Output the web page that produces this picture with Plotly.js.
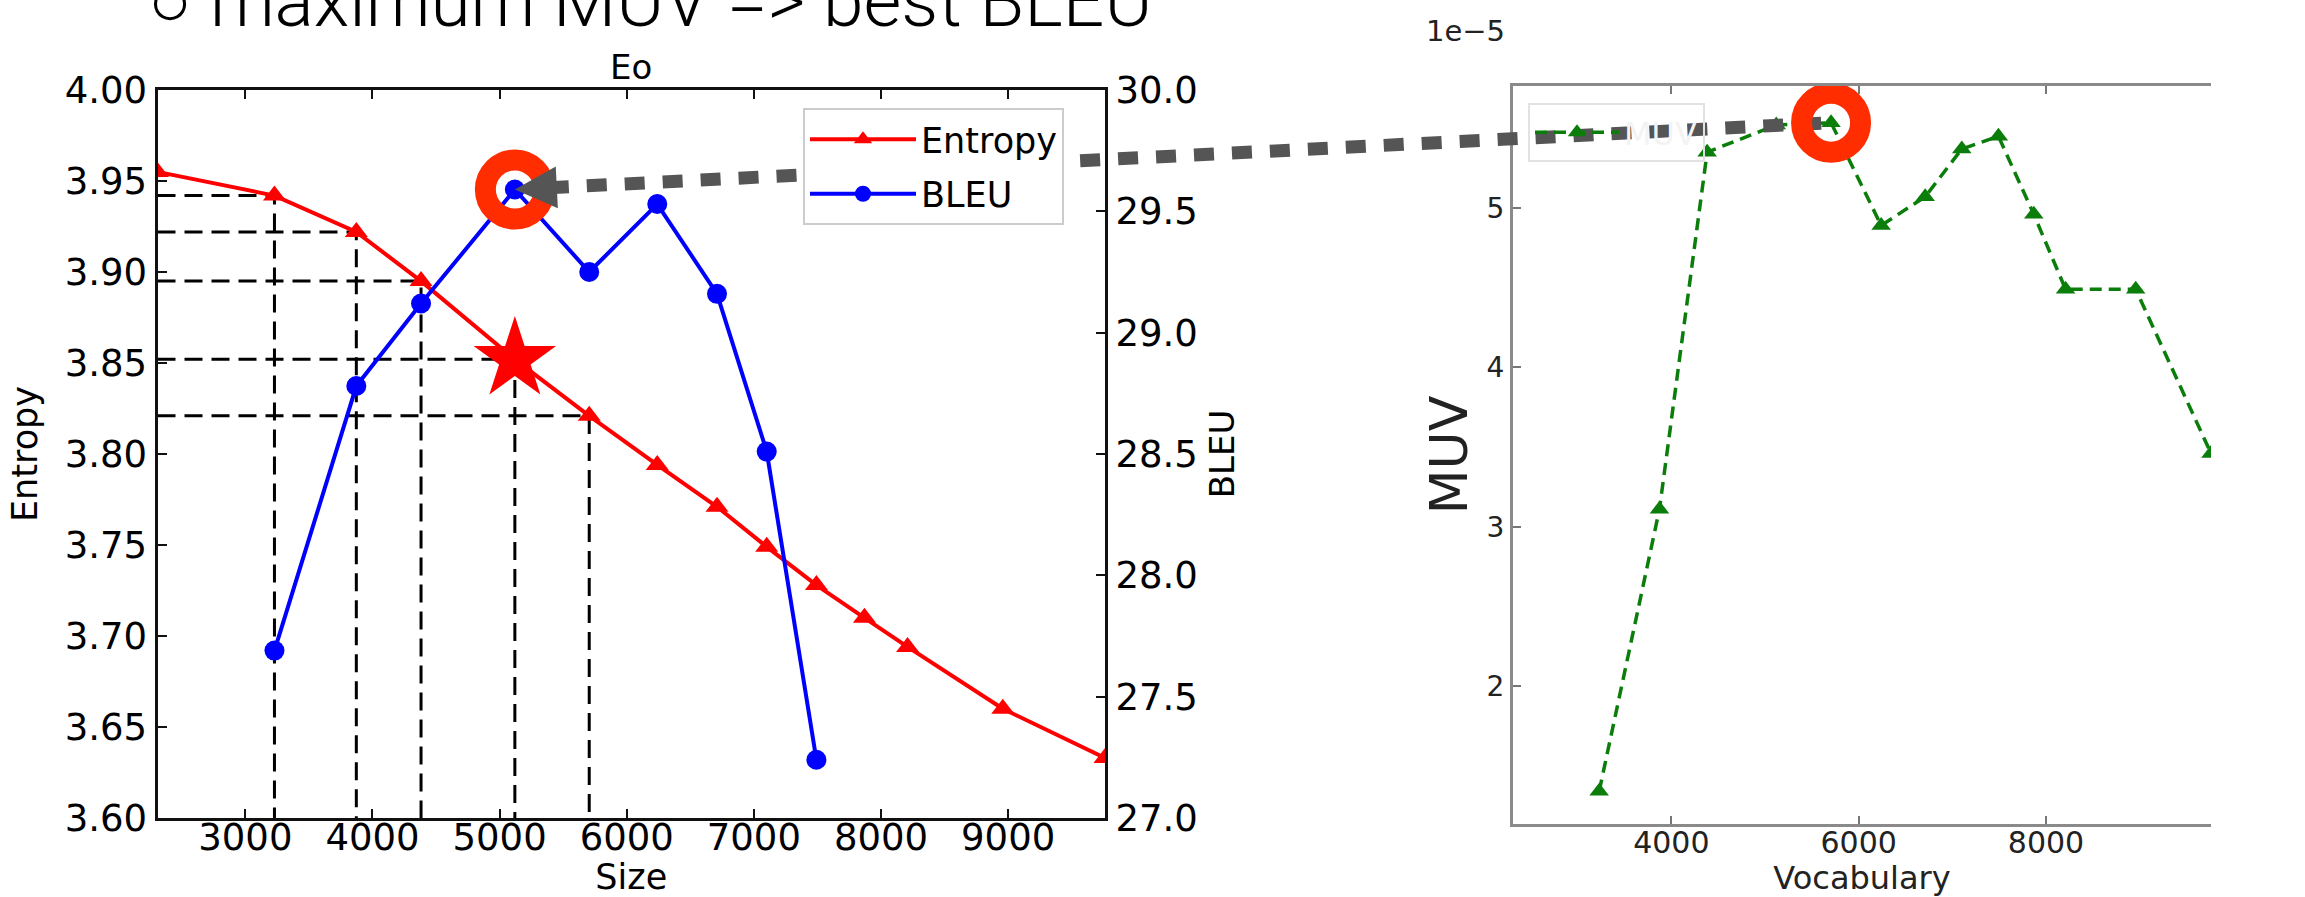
<!DOCTYPE html>
<html>
<head>
<meta charset="utf-8">
<script src="https://cdn.plot.ly/plotly-3.0.1.min.js"></script>
<style>
  html, body { margin: 0; padding: 0; background: #ffffff; }
  #chart { width: 2305px; height: 897px; }
</style>
</head>
<body>
<div id="chart"></div>
<script>
// ---- data ----
const sizeVals    = [2309, 3229, 3873, 4382, 5120, 5705, 6240, 6710, 7101, 7492, 7870, 8209, 8958, 9762];
const entropyVals = [3.955, 3.942, 3.922, 3.895, 3.852, 3.821, 3.794, 3.771, 3.749, 3.728, 3.710, 3.694, 3.660, 3.633];
const bleuSize    = [3229, 3873, 4382, 5120, 5705, 6240, 6710, 7101, 7492];
const bleuVals    = [27.69, 28.78, 29.12, 29.59, 29.25, 29.53, 29.16, 28.51, 27.24];
const vocabVals   = [3229, 3873, 4382, 5120, 5705, 6240, 6710, 7101, 7492, 7870, 8209, 8958, 9762];
const muvVals     = [1.34e-5, 3.11e-5, 5.35e-5, 5.52e-5, 5.535e-5, 4.89e-5, 5.07e-5, 5.37e-5, 5.45e-5, 4.96e-5, 4.49e-5, 4.49e-5, 3.46e-5];
const guideIdx    = [1, 2, 3, 4, 5];          // entropy points with dashed guides
const muvTickVals = [2e-5, 3e-5, 4e-5, 5e-5];
const muvTickText = ['2', '3', '4', '5'];
const headline    = '\u25CB maximum MUV => best BLEU';

const W = 2305, H = 897;
const FONT = 'DejaVu Sans';

// ---- axes ----
const xaxis = {
  domain: [157.5 / W, 1105 / W], range: [2309, 9762], anchor: 'y',
  tick0: 0, dtick: 1000, tickformat: 'd',
  ticks: 'inside', ticklen: 9, tickwidth: 2, tickcolor: '#111',
  showline: true, linecolor: '#111', linewidth: 3, mirror: 'ticks',
  showgrid: false, zeroline: false, ticklabelstandoff: -15,
  tickfont: { family: FONT, size: 37, color: '#000' },
  title: { text: 'Size', font: { family: FONT, size: 35, color: '#000' }, standoff: 16 }
};
const yaxis = {
  domain: [79 / H, 807 / H], range: [3.60, 4.00], anchor: 'x',
  tick0: 0, dtick: 0.05, tickformat: '.2f',
  ticks: 'inside', ticklen: 9, tickwidth: 2, tickcolor: '#111',
  showline: true, linecolor: '#111', linewidth: 3,
  showgrid: false, zeroline: false,
  tickfont: { family: FONT, size: 37, color: '#000' },
  title: { text: 'Entropy', font: { family: FONT, size: 35, color: '#000' }, standoff: 17 }
};
const yaxis2 = {
  overlaying: 'y', side: 'right', anchor: 'x', range: [27, 30],
  tick0: 0, dtick: 0.5, tickformat: '.1f',
  ticks: 'inside', ticklen: 9, tickwidth: 2, tickcolor: '#111',
  showline: true, linecolor: '#111', linewidth: 3,
  showgrid: false, zeroline: false,
  tickfont: { family: FONT, size: 37, color: '#000' },
  title: { text: 'BLEU', font: { family: FONT, size: 34, color: '#000' }, standoff: 14 }
};
const xaxis3 = {
  domain: [1513 / W, 2211 / W], range: [2309, 9762], anchor: 'y3',
  tick0: 0, dtick: 2000, tickformat: 'd',
  ticks: 'inside', ticklen: 8, tickwidth: 2, tickcolor: '#777',
  showline: true, linecolor: '#8a8a8a', linewidth: 3, mirror: 'ticks',
  showgrid: false, zeroline: false, ticklabelstandoff: -10,
  tickfont: { family: FONT, size: 30, color: '#222' },
  title: { text: 'Vocabulary', font: { family: FONT, size: 32, color: '#222' }, standoff: 10 }
};
const yaxis3 = {
  domain: [73 / H, 811 / H], range: [1.135e-5, 5.765e-5], anchor: 'x3',
  tickvals: muvTickVals, ticktext: muvTickText,
  ticks: 'inside', ticklen: 8, tickwidth: 2, tickcolor: '#777',
  showline: true, linecolor: '#8a8a8a', linewidth: 3,
  showgrid: false, zeroline: false,
  tickfont: { family: FONT, size: 28, color: '#222' },
  title: { text: 'MUV', font: { family: FONT, size: 52, color: '#222' }, standoff: 3 }
};
const yaxis4 = {
  overlaying: 'y3', side: 'right', anchor: 'x3', range: [0.767, 5.07],
  tick0: 0, dtick: 1, showticklabels: false,
  ticks: 'inside', ticklen: 8, tickwidth: 2, tickcolor: '#777',
  showline: true, linecolor: '#8a8a8a', linewidth: 3,
  showgrid: false, zeroline: false
};

// ---- helpers to place decorations at data positions ----
function toPaper(ax, v) {
  return ax.domain[0] + (v - ax.range[0]) / (ax.range[1] - ax.range[0]) * (ax.domain[1] - ax.domain[0]);
}
function argMax(a) { let k = 0; a.forEach((v, i) => { if (v > a[k]) k = i; }); return k; }

const y2Full = Object.assign({}, yaxis2, { domain: yaxis.domain });

const bi = argMax(bleuVals);
const mi = argMax(muvVals);
const bx = toPaper(xaxis, bleuSize[bi]) * W, by = (1 - toPaper(y2Full, bleuVals[bi])) * H;
const mx = toPaper(xaxis3, vocabVals[mi]) * W, my = (1 - toPaper(yaxis3, muvVals[mi])) * H;
const dx = mx - bx, dy = my - by, len = Math.hypot(dx, dy), ux = dx / len, uy = dy / len;
const startX = bx + 34 * ux, startY = by + 34 * uy;

// guide lines (horizontal to the left axis, vertical down to the bottom axis)
const gx = [], gy = [];
guideIdx.forEach(i => {
  gx.push(xaxis.range[0], sizeVals[i], sizeVals[i], null);
  gy.push(entropyVals[i], entropyVals[i], yaxis.range[0], null);
});
const starIdx = sizeVals.indexOf(bleuSize[bi]);

const traces = [
  { x: gx, y: gy, xaxis: 'x', yaxis: 'y', mode: 'lines', showlegend: false, hoverinfo: 'skip',
    line: { color: '#000', width: 3, dash: '18px,9px' } },
  { x: sizeVals, y: entropyVals, xaxis: 'x', yaxis: 'y', mode: 'lines+markers', name: 'Entropy',
    legendgroup: 'e', line: { color: '#ff0000', width: 4 },
    marker: { symbol: 'triangle-up', size: 20, color: '#ff0000' } },
  { x: [sizeVals[starIdx]], y: [entropyVals[starIdx]], xaxis: 'x', yaxis: 'y', mode: 'markers',
    showlegend: false, marker: { symbol: 'star', size: 62, color: '#ff0000' } },
  { x: bleuSize, y: bleuVals, xaxis: 'x', yaxis: 'y2', mode: 'lines+markers', name: 'BLEU',
    legendgroup: 'b', line: { color: '#0000ff', width: 4 },
    marker: { symbol: 'circle', size: 20, color: '#0000ff' } },
  { x: vocabVals, y: muvVals, xaxis: 'x3', yaxis: 'y3', mode: 'lines+markers', name: 'MUV',
    legend: 'legend2', line: { color: '#0a7d0a', width: 3.5, dash: '12px,7px' },
    marker: { symbol: 'triangle-up', size: 17, color: '#0a7d0a' } }
];

const ringR = 29.5, ringW = 21, ringColor = '#ff2d00';
const layout = {
  width: W, height: H,
  margin: { l: 0, r: 0, t: 0, b: 0, pad: 0 },
  paper_bgcolor: '#ffffff', plot_bgcolor: 'rgba(0,0,0,0)',
  font: { family: FONT, size: 34, color: '#000' },
  title: { text: 'Eo', x: (157.5 + 1105) / 2 / W, xanchor: 'center', xref: 'paper',
           y: 1 - 67 / H, yanchor: 'middle', yref: 'paper',
           font: { family: FONT, size: 34, color: '#000' } },
  xaxis: xaxis, yaxis: yaxis, yaxis2: yaxis2,
  xaxis3: xaxis3, yaxis3: yaxis3, yaxis4: yaxis4,
  legend: { x: 803 / W, y: 1 - 108 / H, xanchor: 'left', yanchor: 'top',
            bgcolor: '#ffffff', bordercolor: '#cccccc', borderwidth: 2,
            font: { family: FONT, size: 35, color: '#000' },
            itemwidth: 106, tracegroupgap: 6 },
  legend2: { x: 1528 / W, y: 1 - 103 / H, xanchor: 'left', yanchor: 'top',
             bgcolor: 'rgba(255,255,255,0)', bordercolor: '#e2e2e2', borderwidth: 2,
             font: { family: FONT, size: 32, color: '#f3f3f3' }, itemwidth: 84 },
  shapes: [
    { type: 'line', xref: 'paper', yref: 'paper', layer: 'above',
      x0: startX / W, y0: 1 - startY / H, x1: mx / W, y1: 1 - my / H,
      line: { color: '#555555', width: 13, dash: '20px,18px' } },
    { type: 'circle', xref: 'x', yref: 'y2', layer: 'above', xsizemode: 'pixel', ysizemode: 'pixel',
      xanchor: bleuSize[bi], yanchor: bleuVals[bi], x0: -ringR, x1: ringR, y0: -ringR, y1: ringR,
      line: { color: ringColor, width: ringW } },
    { type: 'circle', xref: 'x3', yref: 'y3', layer: 'above', xsizemode: 'pixel', ysizemode: 'pixel',
      xanchor: vocabVals[mi], yanchor: muvVals[mi], x0: -ringR, x1: ringR, y0: -ringR, y1: ringR,
      line: { color: ringColor, width: ringW } }
  ],
  annotations: [
    { text: '', xref: 'x', yref: 'y2', x: bleuSize[bi], y: bleuVals[bi],
      showarrow: true, arrowhead: 2, arrowsize: 2.1, arrowwidth: 4, arrowcolor: '#555555',
      ax: 42 * ux, ay: 42 * uy },
    { text: headline, xref: 'paper', yref: 'paper', x: 146 / W, y: 1 - 1 / H,
      xanchor: 'left', yanchor: 'middle', showarrow: false,
      font: { family: 'Roboto', size: 73, color: '#000', weight: 300 } },
    { text: '1e\u22125', xref: 'paper', yref: 'paper', x: 1424 / W, y: 1 - 31 / H,
      xanchor: 'left', yanchor: 'middle', showarrow: false,
      font: { family: FONT, size: 29, color: '#222' } }
  ]
};

Plotly.newPlot('chart', traces, layout, { displayModeBar: false, staticPlot: true });
</script>
</body>
</html>
